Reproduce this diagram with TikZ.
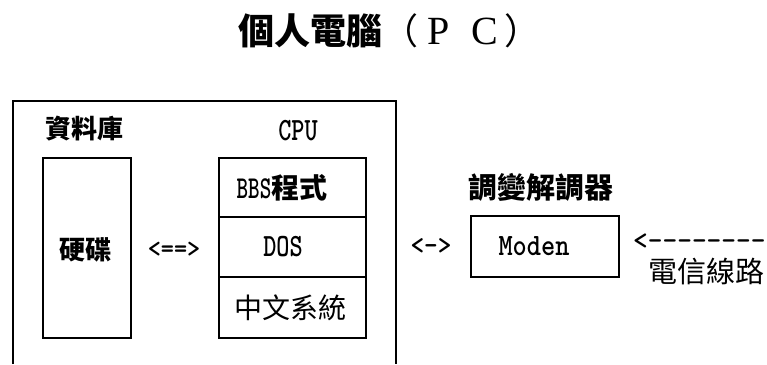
\documentclass[tikz,border=0pt]{standalone}
\usepackage{fontspec}
\usepackage{graphicx}
\newfontfamily\cjk{Noto Sans CJK TC}
\newfontfamily\seriffnt{Liberation Serif}
\newcommand\mytt[2]{\scalebox{1}[#1]{\ttfamily\bfseries #2}}
\tikzset{
  box/.style={draw, line width=1.4pt, inner sep=0pt},
  lbl/.style={inner sep=0pt, font=\cjk\bfseries},
  txt/.style={inner sep=0pt},
}
\begin{document}
\begin{tikzpicture}[x=1pt,y=-1pt]
\useasboundingbox (0,0) rectangle (767,364);
% title
\node[txt, anchor=west] (title) at (238,31) {\fontsize{36}{40}\selectfont\cjk\bfseries 個人電腦{\mdseries（}\hspace{9pt}{\seriffnt\mdseries\fontsize{40}{40}\selectfont P\hspace{22pt}C}\hspace{6pt}{\mdseries）}};
% outer frame
\draw[line width=1.4pt] (13,364) -- (13,101) -- (396,101) -- (396,364);
% database
\node[lbl] (db) at (84,129) {\fontsize{26}{30}\selectfont 資料庫};
\node[box, minimum width=88pt, minimum height=180pt] (hd) at (87,248) {};
\node[lbl] (hdt) at (85,250) {\fontsize{26}{30}\selectfont 硬碟};
\node[txt] (a1) at (174,250) {\fontsize{25}{26}\selectfont\mytt{1.1}{<==>}};
% CPU
\node[txt] (cpu) at (298,131) {\fontsize{25}{26}\selectfont\mytt{1.3}{CPU}};
\node[box, minimum width=147pt, minimum height=59pt] (c1) at (292.5,187.5) {};
\node[box, minimum width=147pt, minimum height=60pt] (c2) at (292.5,247) {};
\node[box, minimum width=147pt, minimum height=61pt] (c3) at (292.5,307.5) {};
\node[txt] (c1t) at (282,188) {\fontsize{22}{24}\selectfont\mytt{1.45}{BBS}{\fontsize{28}{30}\selectfont\cjk\bfseries 程式}};
\node[txt] (c2t) at (283,247) {\fontsize{25}{26}\selectfont\mytt{1.3}{DOS}};
\node[lbl] (c3t) at (290,308) {\fontsize{28}{30}\selectfont\mdseries 中文系統};
% modem
\node[txt] (a2) at (431,247) {\fontsize{26}{26}\selectfont\mytt{1.1}{<->}};
\node[lbl] (mt) at (541,187) {\fontsize{29}{32}\selectfont 調變解調器};
\node[box, minimum width=148pt, minimum height=61pt] (modem) at (545,246.5) {\fontsize{27}{28}\selectfont\mytt{1.15}{Moden}\hspace*{22pt}};
\node[txt, anchor=west] (a3) at (633,242) {\fontsize{28}{28}\selectfont\mytt{1.0}{<--------}};
\node[lbl] (line) at (706,271) {\fontsize{29}{32}\selectfont\mdseries 電信線路};
\end{tikzpicture}
\end{document}
